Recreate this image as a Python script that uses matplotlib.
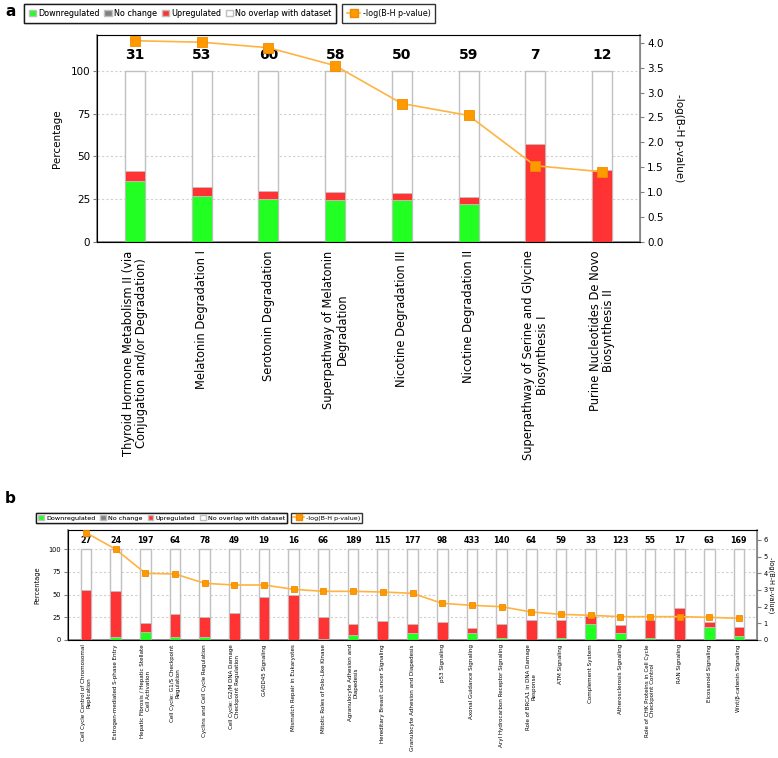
import matplotlib.pyplot as plt
import numpy as np
from matplotlib.lines import Line2D
from matplotlib.patches import Patch
from matplotlib import font_manager

# ---------------- data: panel a ----------------
a_labels = [
    "Thyroid Hormone Metabolism II (via\nConjugation and/or Degradation)",
    "Melatonin Degradation I",
    "Serotonin Degradation",
    "Superpathway of Melatonin\nDegradation",
    "Nicotine Degradation III",
    "Nicotine Degradation II",
    "Superpathway of Serine and Glycine\nBiosynthesis I",
    "Purine Nucleotides De Novo\nBiosynthesis II",
]
a_counts = [31, 53, 60, 58, 50, 59, 7, 12]
a_down = [35.5, 27.1, 25.1, 24.6, 24.6, 22.4, 0, 0]
a_up = [6.2, 5.2, 4.7, 4.4, 3.9, 3.7, 57.1, 41.9]
a_logp = [4.04, 4.01, 3.90, 3.54, 2.78, 2.54, 1.53, 1.41]

# ---------------- data: panel b ----------------
b_labels = [
    "Cell Cycle Control of Chromosomal\nReplication",
    "Estrogen-mediated S-phase Entry",
    "Hepatic Fibrosis / Hepatic Stellate\nCell Activation",
    "Cell Cycle: G1/S Checkpoint\nRegulation",
    "Cyclins and Cell Cycle Regulation",
    "Cell Cycle: G2/M DNA Damage\nCheckpoint Regulation",
    "GADD45 Signaling",
    "Mismatch Repair in Eukaryotes",
    "Mitotic Roles of Polo-Like Kinase",
    "Agranulocyte Adhesion and\nDiapedesis",
    "Hereditary Breast Cancer Signaling",
    "Granulocyte Adhesion and Diapedesis",
    "p53 Signaling",
    "Axonal Guidance Signaling",
    "Aryl Hydrocarbon Receptor Signaling",
    "Role of BRCA1 in DNA Damage\nResponse",
    "ATM Signaling",
    "Complement System",
    "Atherosclerosis Signaling",
    "Role of CHK Proteins in Cell Cycle\nCheckpoint Control",
    "RAN Signaling",
    "Eicosanoid Signaling",
    "Wnt/\u03b2-catenin Signaling",
]
b_counts = [27, 24, 197, 64, 78, 49, 19, 16, 66, 189, 115, 177, 98, 433, 140,
            64, 59, 33, 123, 55, 17, 63, 169]
b_down = [0, 3.7, 8.5, 2.9, 2.9, 0, 0, 0, 1.1, 5.9, 0, 7.4, 0, 7.4, 2.2,
          0, 2.2, 17.6, 7.4, 2.2, 0, 14.3, 4.0]
b_up = [55.1, 50.7, 10.6, 26.1, 22.5, 30.1, 47.1, 49.6, 24.6, 11.7, 21.0, 10.2,
        19.9, 6.2, 15.4, 21.7, 19.9, 9.2, 9.1, 19.5, 34.9, 5.9, 10.7]
b_logp = [6.44, 5.44, 4.00, 3.96, 3.40, 3.30, 3.30, 3.04, 2.92, 2.92, 2.88, 2.80,
          2.20, 2.08, 2.00, 1.68, 1.54, 1.48, 1.40, 1.40, 1.40, 1.36, 1.30]

GREEN = "#22ff22"
RED = "#ff3333"
GREY = "#808080"
ORANGE = "#ff9900"
LINE_ORANGE = "#ffb340"

# narrow font for legends if available
names_avail = {f.name for f in font_manager.fontManager.ttflist}
NARROW = ["Liberation Sans Narrow", "DejaVu Sans"] if "Liberation Sans Narrow" in names_avail else ["DejaVu Sans"]
HAVE_NARROW = len(NARROW) == 2

W, H = 778, 758
fig = plt.figure(figsize=(W / 100, H / 100), dpi=100)


def px_axes(x0, y0, x1, y1):
    return fig.add_axes([x0 / W, 1 - y1 / H, (x1 - x0) / W, (y1 - y0) / H])


def draw_panel(ax, labels, counts, down, up, logp, rmax, rticks, rfmt,
               bar_w, lab_fs, tick_fs, cnt_fs, ms, xpad, ylab_fs, rpad, xpadpt):
    n = len(labels)
    x = np.arange(n)
    down = np.array(down)
    up = np.array(up)

    ax.bar(x, 100, width=bar_w, color="white", edgecolor="#c0c0c0", lw=1.0, zorder=2)
    ax.bar(x, down, width=bar_w, color=GREEN, edgecolor="#c0c0c0", lw=0.6, zorder=3)
    ax.bar(x, up, bottom=down, width=bar_w, color=RED, edgecolor="#c0c0c0", lw=0.6, zorder=3)
    for xi, c in zip(x, counts):
        ax.text(xi, 109.5, str(c), ha="center", va="center", fontsize=cnt_fs,
                fontweight="bold", zorder=4)

    ax.set_xlim(-xpad, n - 1 + xpad)
    ax.set_ylim(0, 121)
    ax.set_yticks([0, 25, 50, 75, 100])
    ax.yaxis.grid(True, ls=(0, (2, 2)), color="#d0d0d0", lw=0.8)
    ax.set_axisbelow(True)
    ax.set_xticks(x)
    ax.set_xticklabels(labels, rotation=90, fontsize=lab_fs, ha="center", va="top",
                       multialignment="center", linespacing=1.05)
    ax.tick_params(axis="x", length=0, pad=xpadpt)
    ax.tick_params(axis="y", labelsize=tick_fs, length=3, color=GREY, pad=2)
    ax.set_ylabel("Percentage", fontsize=ylab_fs, labelpad=6)
    for s in ax.spines.values():
        s.set_color("#b0b0b0")
    ax.spines["left"].set_color(GREY)
    ax.spines["bottom"].set_color(GREY)
    ax.spines["left"].set_linewidth(1.2)
    ax.spines["bottom"].set_linewidth(1.2)

    ax2 = ax.twinx()
    ax2.plot(x, logp, color=LINE_ORANGE, lw=1.2, marker="s", ms=ms,
             mfc=ORANGE, mec="#f08c00", mew=0.6, zorder=5, clip_on=False)
    ax2.set_ylim(0, rmax)
    ax2.set_yticks(rticks)
    ax2.set_yticklabels([rfmt.format(t) for t in rticks])
    ax2.tick_params(axis="y", labelsize=tick_fs, length=3, color=GREY, pad=2)
    ax2.spines["right"].set_color(GREY)
    ax2.spines["right"].set_linewidth(1.2)
    ax2.set_ylabel("-log(B-H p-value)", fontsize=ylab_fs, rotation=270, labelpad=rpad)
    return ax2


def add_legends(x0, y0, fs, ms, gap_px, bpad, colsp):
    handles = [Patch(fc=GREEN, ec="#c0c0c0"), Patch(fc=GREY, ec="#c0c0c0"),
               Patch(fc=RED, ec="#c0c0c0"), Patch(fc="white", ec="#c0c0c0")]
    names = ["Downregulated", "No change", "Upregulated", "No overlap with dataset"]
    kw = dict(loc="upper left", frameon=True, fancybox=False, edgecolor="black",
              prop={"family": NARROW, "size": fs}, handlelength=0.9,
              handleheight=0.9, handletextpad=0.3, borderpad=bpad, borderaxespad=0)
    leg1 = fig.legend(handles, names, ncol=4, columnspacing=colsp,
                      bbox_to_anchor=(x0 / W, 1 - y0 / H), **kw)
    leg1.get_frame().set_linewidth(1.0)
    fig.canvas.draw()
    bb = leg1.get_window_extent()
    lh = Line2D([], [], color=LINE_ORANGE, lw=1.2, marker="s", ms=ms,
                mfc=ORANGE, mec="#f08c00")
    kw2 = dict(kw)
    kw2["handlelength"] = 1.6
    leg2 = fig.legend([lh], ["-log(B-H p-value)"],
                      bbox_to_anchor=((bb.x1 + gap_px) / W, 1 - y0 / H), **kw2)
    leg2.get_frame().set_linewidth(1.0)
    fig.add_artist(leg1)


# ---------------- panel a ----------------
ax_a = px_axes(97, 35, 640, 242)
draw_panel(ax_a, a_labels, a_counts, a_down, a_up, a_logp,
           rmax=4.155, rticks=[0, 0.5, 1, 1.5, 2, 2.5, 3, 3.5, 4], rfmt="{:.1f}",
           bar_w=0.3, lab_fs=8.3, tick_fs=7.5, cnt_fs=10, ms=7, xpad=0.57,
           ylab_fs=7.5, rpad=15, xpadpt=6)
add_legends(24, 4, fs=8.5 if HAVE_NARROW else 5.8, ms=6, gap_px=6, bpad=0.6, colsp=0.55)
fig.text(5 / W, 1 - 12 / H, "a", fontsize=11, fontweight="bold", va="center")

# ---------------- panel b ----------------
ax_b = px_axes(68.3, 530, 756.7, 640)
draw_panel(ax_b, b_labels, b_counts, b_down, b_up, b_logp,
           rmax=6.6, rticks=[0, 1, 2, 3, 4, 5, 6], rfmt="{:d}",
           bar_w=0.36, lab_fs=4.1, tick_fs=4.8, cnt_fs=5.8, ms=4, xpad=0.6,
           ylab_fs=4.8, rpad=5, xpadpt=3)
add_legends(36, 512.7, fs=5.2 if HAVE_NARROW else 4.6, ms=4, gap_px=4, bpad=0.35, colsp=0.8)
fig.text(5 / W, 1 - 498 / H, "b", fontsize=11, fontweight="bold", va="center")

fig.savefig("out.png", dpi=100)
